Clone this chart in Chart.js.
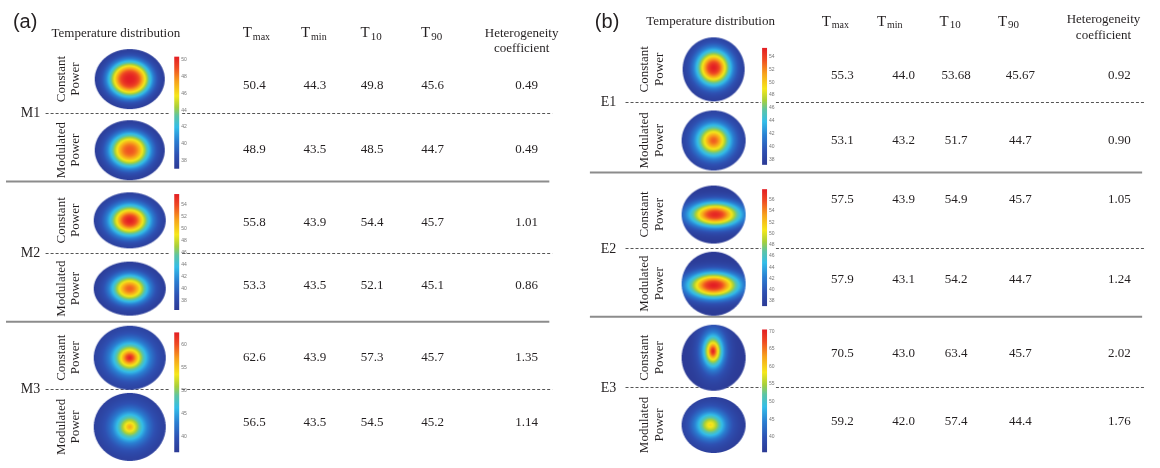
<!DOCTYPE html>
<html>
<head>
<meta charset="utf-8">
<script src="https://cdn.jsdelivr.net/npm/chart.js@4.4.1/dist/chart.umd.min.js"></script>
<style>
  html, body { margin: 0; padding: 0; background: #fff; }
  #wrap { width: 1160px; height: 468px; }
</style>
</head>
<body>
<div id="wrap"><canvas id="chart" width="1160" height="468"></canvas></div>
<script>
// ---- data ----
const groupsA = ['M1', 'M2', 'M3'];
const groupsB = ['E1', 'E2', 'E3'];
const powerModes = [['Constant', 'Power'], ['Modulated', 'Power']];
const colHeads = ['max', 'min', '10', '90'];

// rows: M1 const, M1 mod, M2 const, M2 mod, M3 const, M3 mod
const tmaxA = ['50.4', '48.9', '55.8', '53.3', '62.6', '56.5'];
const tminA = ['44.3', '43.5', '43.9', '43.5', '43.9', '43.5'];
const t10A  = ['49.8', '48.5', '54.4', '52.1', '57.3', '54.5'];
const t90A  = ['45.6', '44.7', '45.7', '45.1', '45.7', '45.2'];
const hcA   = ['0.49', '0.49', '1.01', '0.86', '1.35', '1.14'];

// rows: E1 const, E1 mod, E2 const, E2 mod, E3 const, E3 mod
const tmaxB = ['55.3', '53.1', '57.5', '57.9', '70.5', '59.2'];
const tminB = ['44.0', '43.2', '43.9', '43.1', '43.0', '42.0'];
const t10B  = ['53.68', '51.7', '54.9', '54.2', '63.4', '57.4'];
const t90B  = ['45.67', '44.7', '45.7', '44.7', '45.7', '44.4'];
const hcB   = ['0.92', '0.90', '1.05', '1.24', '2.02', '1.76'];

// colour bar range and tick labels per group
const barRangeA = [[37, 50.4], [36.5, 55.8], [36.6, 62.6]];
const barTicksA = [[38, 40, 42, 44, 46, 48, 50], [38, 40, 42, 44, 46, 48, 50, 52, 54], [40, 45, 50, 55, 60]];
const barRangeB = [[37.2, 55.3], [37.1, 57.9], [35.6, 70.5]];
const barTicksB = [[38, 40, 42, 44, 46, 48, 50, 52, 54], [38, 40, 42, 44, 46, 48, 50, 52, 54, 56], [40, 45, 50, 55, 60, 65, 70]];

// ---- look of the hot spot in each map (style only) ----
const spotA = [
  { w: 0.60, p: 2.6, sx: 1, sy: 1, cx: 0, cy: 0 },
  { w: 0.58, p: 2.4, sx: 1, sy: 1, cx: 0, cy: 0 },
  { w: 0.55, p: 2.0, sx: 1, sy: 1, cx: 0, cy: 0 },
  { w: 0.52, p: 2.0, sx: 1, sy: 1, cx: 0, cy: 0 },
  { w: 0.45, p: 1.4, sx: 1, sy: 1, cx: 0, cy: 0 },
  { w: 0.45, p: 1.4, sx: 1, sy: 1, cx: 0, cy: 0 }
];
const spotB = [
  { w: 0.55, p: 2.0, sx: 1, sy: 1, cx: 0, cy: -0.05 },
  { w: 0.55, p: 1.8, sx: 1, sy: 1, cx: 0, cy: 0 },
  { w: 0.50, p: 2.0, sx: 1.6, sy: 0.85, cx: 0.05, cy: 0 },
  { w: 0.50, p: 2.0, sx: 1.6, sy: 0.8, cx: 0, cy: 0.05 },
  { w: 0.42, p: 1.4, sx: 0.7, sy: 1.1, cx: -0.02, cy: -0.2 },
  { w: 0.50, p: 1.6, sx: 1, sy: 1, cx: -0.1, cy: 0 }
];

// ---- layout ----
const layoutA = {
  title: '(a)', titleX: 7, titleY: 17,
  tdX: 111, headY: 28, hcY: [28, 44],
  headX: [253, 311, 369, 430, 521],
  colX: [251, 312, 370, 431, 526],
  rowY: [82, 147, 222, 287, 361, 428],
  heatX: 125, heatY: [75, 148, 220, 290, 361, 432],
  heatRX: [35, 35, 36, 36, 36, 36], heatRY: [30, 30, 28, 27, 32, 34],
  rotX: [56, 70],
  groupX: 15, groupY: [110, 254, 393],
  dashY: [110, 254, 393], dashX: [40, 166, 178, 552],
  solidY: [180, 324], solidX: [0, 549],
  barX: 170, barW: 5, barY: [[52, 167], [193, 312], [335, 458]]
};
const layoutB = {
  title: '(b)', titleX: 595, titleY: 17,
  tdX: 712, headY: 16, hcY: [14, 30],
  headX: [838, 893, 954, 1013, 1109],
  colX: [845, 907, 960, 1025, 1125],
  rowY: [71, 138, 199, 281, 357, 427],
  heatX: 715, heatY: [65, 138, 214, 285, 361, 430],
  heatRX: [31, 32, 32, 32, 32, 32], heatRY: [32, 30, 29, 32, 33, 28],
  rotX: [645, 660],
  groupX: 601, groupY: [99, 250, 392],
  dashY: [99, 248, 391], dashX: [626, 763, 778, 1150],
  solidY: [171, 319], solidX: [590, 1148],
  barX: 764, barW: 5, barY: [[43, 163], [188, 308], [332, 458]]
};

const panels = [
  { lay: layoutA, groups: groupsA, cols: [tmaxA, tminA, t10A, t90A, hcA], range: barRangeA, ticks: barTicksA, spot: spotA },
  { lay: layoutB, groups: groupsB, cols: [tmaxB, tminB, t10B, t90B, hcB], range: barRangeB, ticks: barTicksB, spot: spotB }
];

const SERIF = '"Liberation Serif", "Times New Roman", serif';
const SANS = '"Liberation Sans", Arial, sans-serif';
const INK = '#231f20';

// jet-like colour map as seen on the colour bars
const cmapStops = [
  [0.00, [44, 58, 149]],
  [0.12, [46, 80, 178]],
  [0.25, [42, 127, 210]],
  [0.37, [51, 189, 232]],
  [0.47, [92, 196, 165]],
  [0.55, [166, 207, 58]],
  [0.65, [245, 231, 26]],
  [0.78, [247, 162, 27]],
  [0.90, [239, 75, 35]],
  [1.00, [227, 30, 36]]
];
function cmap(t) {
  t = Math.max(0, Math.min(1, t));
  for (let i = 1; i < cmapStops.length; i++) {
    const [t1, c1] = cmapStops[i];
    const [t0, c0] = cmapStops[i - 1];
    if (t <= t1) {
      const f = (t - t0) / (t1 - t0);
      return [0, 1, 2].map(k => Math.round(c0[k] + (c1[k] - c0[k]) * f));
    }
  }
  return cmapStops[cmapStops.length - 1][1];
}

// renders one elliptical temperature map into an offscreen canvas
function heatImage(rx, ry, tmax, cmin, cmax, s) {
  const w = Math.ceil(rx * 2) + 2, h = Math.ceil(ry * 2) + 2;
  const cv = document.createElement('canvas');
  cv.width = w; cv.height = h;
  const g = cv.getContext('2d');
  const img = g.createImageData(w, h);
  const ox = w / 2, oy = h / 2;
  for (let j = 0; j < h; j++) {
    for (let i = 0; i < w; i++) {
      let cov = 0;
      for (let a = 0; a < 4; a++) for (let b = 0; b < 4; b++) {
        const u = (i + (a + 0.5) / 4 - ox) / rx, v = (j + (b + 0.5) / 4 - oy) / ry;
        if (u * u + v * v <= 1) cov++;
      }
      if (!cov) continue;
      const u = (i + 0.5 - ox) / rx, v = (j + 0.5 - oy) / ry;
      const du = (u - s.cx) / s.sx, dv = (v - s.cy) / s.sy;
      const d = Math.sqrt(du * du + dv * dv);
      const T = cmin + (tmax - cmin) * Math.exp(-Math.pow(d / s.w, s.p));
      const c = cmap((T - cmin) / (cmax - cmin));
      const k = (j * w + i) * 4;
      img.data[k] = c[0]; img.data[k + 1] = c[1]; img.data[k + 2] = c[2];
      img.data[k + 3] = Math.round(cov / 16 * 255);
    }
  }
  g.putImageData(img, 0, 0);
  return cv;
}

function text(ctx, s, x, y, font, align) {
  ctx.font = font;
  ctx.textAlign = align || 'center';
  ctx.textBaseline = 'middle';
  ctx.fillText(s, x, y);
}

function subHead(ctx, sub, cx, y) {
  ctx.font = '15px ' + SERIF;
  const wT = ctx.measureText('T').width;
  const subFont = (sub === 'max' || sub === 'min' ? '10px ' : '11px ') + SERIF;
  ctx.font = subFont;
  const wS = ctx.measureText(sub).width;
  const x0 = cx - (wT + wS + 1) / 2;
  text(ctx, 'T', x0, y, '15px ' + SERIF, 'left');
  text(ctx, sub, x0 + wT + 1, y + 4, subFont, 'left');
}

function drawPanel(ctx, xs, ys, p) {
  const L = p.lay;
  const X = v => xs.getPixelForValue(v);
  const Y = v => ys.getPixelForValue(v);
  ctx.save();
  ctx.fillStyle = INK;

  text(ctx, L.title, X(L.titleX), Y(L.titleY), '20px ' + SANS, 'left');
  text(ctx, 'Temperature distribution', X(L.tdX), Y(L.headY), '13px ' + SERIF);
  colHeads.forEach((h, i) => subHead(ctx, h, X(L.headX[i]), Y(L.headY)));
  text(ctx, 'Heterogeneity', X(L.headX[4]), Y(L.hcY[0]), '13px ' + SERIF);
  text(ctx, 'coefficient', X(L.headX[4]), Y(L.hcY[1]), '13px ' + SERIF);

  // table values
  p.cols.forEach((col, c) => {
    col.forEach((v, r) => text(ctx, v, X(L.colX[c]), Y(L.rowY[r]), '13px ' + SERIF));
  });

  // rotated row labels
  L.heatY.forEach((hy, r) => {
    const lines = powerModes[r % 2];
    lines.forEach((s, k) => {
      ctx.save();
      ctx.translate(X(L.rotX[k]), Y(hy));
      ctx.rotate(-Math.PI / 2);
      text(ctx, s, 0, 0, '13px ' + SERIF);
      ctx.restore();
    });
  });

  // group labels and dashed separators
  p.groups.forEach((g, i) => {
    text(ctx, g, X(L.groupX), Y(L.groupY[i]), '14px ' + SERIF, 'left');
    ctx.save();
    ctx.strokeStyle = '#555';
    ctx.lineWidth = 1;
    ctx.setLineDash([3, 2]);
    const yy = Math.round(Y(L.dashY[i])) + 0.5;
    ctx.beginPath();
    ctx.moveTo(X(L.dashX[0]), yy); ctx.lineTo(X(L.dashX[1]), yy);
    ctx.moveTo(X(L.dashX[2]), yy); ctx.lineTo(X(L.dashX[3]), yy);
    ctx.stroke();
    ctx.restore();
  });

  // solid separators
  ctx.strokeStyle = '#8c8c8c';
  ctx.lineWidth = 2;
  L.solidY.forEach(sy => {
    ctx.beginPath();
    ctx.moveTo(X(L.solidX[0]), Y(sy));
    ctx.lineTo(X(L.solidX[1]), Y(sy));
    ctx.stroke();
  });
  ctx.restore();
}

function drawBars(ctx, xs, ys, p) {
  const L = p.lay;
  const X = v => xs.getPixelForValue(v);
  const Y = v => ys.getPixelForValue(v);
  ctx.save();
  p.range.forEach(([lo, hi], i) => {
    const top = Y(L.barY[i][0]), bot = Y(L.barY[i][1]);
    const x0 = X(L.barX), w = X(L.barX + L.barW) - x0;
    const grad = ctx.createLinearGradient(0, bot, 0, top);
    cmapStops.forEach(([t, c]) => grad.addColorStop(t, 'rgb(' + c.join(',') + ')'));
    ctx.fillStyle = grad;
    ctx.fillRect(x0, top, w, bot - top);
    ctx.fillStyle = '#777';
    p.ticks[i].forEach(t => {
      const ty = bot + (top - bot) * (t - lo) / (hi - lo);
      text(ctx, String(t), x0 + w + 2, ty, '5px ' + SANS, 'left');
    });
  });
  ctx.restore();
}

const tablePlugin = {
  id: 'table',
  beforeDatasetsDraw(chart) {
    const { ctx, scales } = chart;
    panels.forEach(p => drawPanel(ctx, scales.x, scales.y, p));
  },
  afterDatasetsDraw(chart) {
    const { ctx, scales } = chart;
    panels.forEach(p => drawBars(ctx, scales.x, scales.y, p));
  }
};

// one dataset per panel: each point is a temperature map
const datasets = panels.map(p => {
  const L = p.lay;
  const tmax = p.cols[0];
  return {
    label: p.groups.join(' '),
    data: L.heatY.map(hy => ({ x: L.heatX, y: hy })),
    pointStyle: L.heatY.map((hy, r) => {
      const [lo, hi] = p.range[Math.floor(r / 2)];
      return heatImage(L.heatRX[r], L.heatRY[r], parseFloat(tmax[r]), lo, hi, p.spot[r]);
    }),
    pointRadius: 5,
    clip: false
  };
});

new Chart(document.getElementById('chart'), {
  type: 'scatter',
  data: { datasets: datasets },
  options: {
    responsive: false,
    animation: false,
    events: [],
    layout: { padding: 0 },
    plugins: { legend: { display: false }, tooltip: { enabled: false } },
    scales: {
      x: { type: 'linear', min: 0, max: 1160, display: false },
      y: { type: 'linear', min: 0, max: 468, reverse: true, display: false }
    }
  },
  plugins: [tablePlugin]
});
</script>
</body>
</html>
